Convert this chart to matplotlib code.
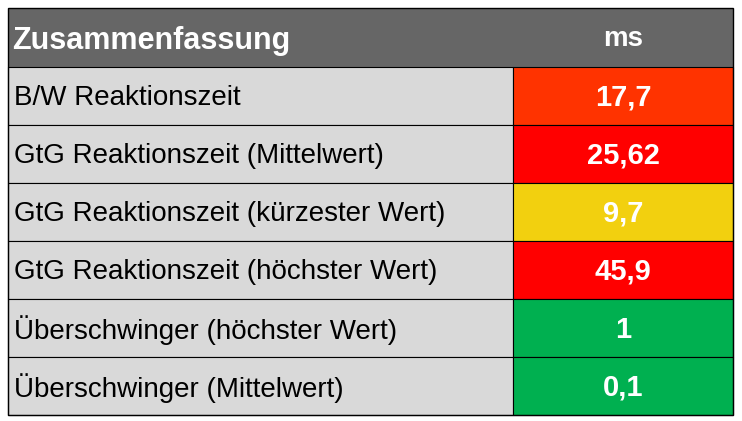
import matplotlib.pyplot as plt
from matplotlib.patches import Rectangle

header = ["Zusammenfassung", "ms"]
labels = ["B/W Reaktionszeit", "GtG Reaktionszeit (Mittelwert)",
          "GtG Reaktionszeit (kürzester Wert)", "GtG Reaktionszeit (höchster Wert)",
          "Überschwinger (höchster Wert)", "Überschwinger (Mittelwert)"]
values = ["17,7", "25,62", "9,7", "45,9", "1", "0,1"]
colors = ["#FF3300", "#FF0000", "#F2D00F", "#FF0000", "#00B050", "#00B050"]

fig = plt.figure(figsize=(7.42, 4.21), dpi=100)
ax = fig.add_axes([0, 0, 1, 1])
ax.set_xlim(0, 742)
ax.set_ylim(421, 0)
ax.axis('off')

x0, x1, x2 = 8, 513, 733
top, head_h, row_h = 8, 59, 58
font = "Liberation Sans"

# header
ax.add_patch(Rectangle((x0, top), x2 - x0, head_h, facecolor="#666666", edgecolor="none"))
ax.text(x0 + 4, top + head_h / 2 + 3, header[0], color="white", fontsize=22,
        fontweight="bold", va="center", ha="left", family=font)
ax.text((x1 + x2) / 2, top + head_h / 2 + 2, header[1], color="white", fontsize=20,
        fontweight="bold", va="center", ha="center", family=font)

for i, (lab, val, col) in enumerate(zip(labels, values, colors)):
    y = top + head_h + i * row_h
    ax.add_patch(Rectangle((x0, y), x1 - x0, row_h, facecolor="#D9D9D9",
                           edgecolor="black", linewidth=0.8))
    ax.add_patch(Rectangle((x1, y), x2 - x1, row_h, facecolor=col,
                           edgecolor="black", linewidth=0.8))
    ax.text(x0 + 6, y + row_h / 2 + 2, lab, color="black", fontsize=20,
            va="center", ha="left", family=font)
    ax.text((x1 + x2) / 2, y + row_h / 2 + 2, val, color="white", fontsize=21,
            fontweight="bold", va="center", ha="center", family=font)

ax.add_patch(Rectangle((x0, top), x2 - x0, head_h + 6 * row_h, facecolor="none",
                       edgecolor="black", linewidth=1))

fig.savefig("out.png", dpi=100, facecolor="white")
